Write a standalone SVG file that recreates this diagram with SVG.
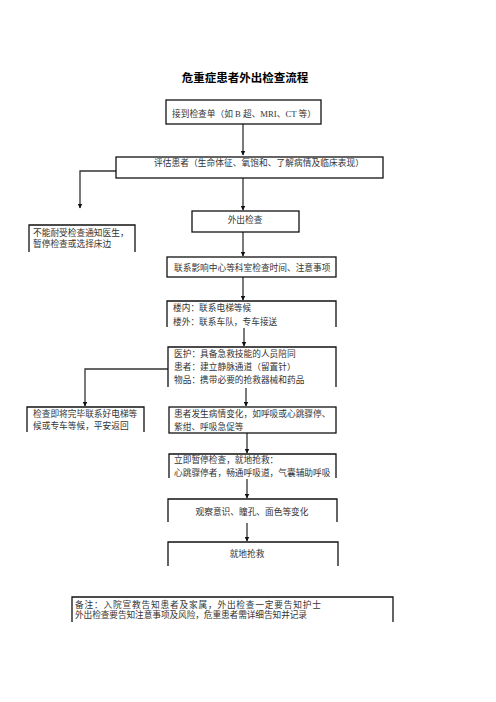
<svg xmlns="http://www.w3.org/2000/svg" width="496" height="702" viewBox="0 0 496 702">
<style>
text{font-family:"Liberation Serif","Noto Sans CJK SC",serif;font-size:8.7px;fill:#333}
.title{font-size:11.5px;font-weight:bold;fill:#000}
.box{fill:none;stroke:#111;stroke-width:1.3}
.ln{fill:none;stroke:#333;stroke-width:1.3}
.c{text-anchor:middle}
</style>
<defs>
<marker id="ah" viewBox="0 0 10 10" refX="9" refY="5" markerWidth="5" markerHeight="5" orient="auto" markerUnits="userSpaceOnUse">
<path d="M0,0 L10,5 L0,10 z" fill="#111"/>
</marker>
</defs>
<rect width="496" height="702" fill="#fff"/>
<text class="title c" x="245" y="82">危重症患者外出检查流程</text>
<g id="connectors">
<path class="ln" d="M243,124 V155" marker-end="url(#ah)"/>
<path class="ln" d="M116,171 H80 V208" marker-end="url(#ah)"/>
<path class="ln" d="M243,178 V210" marker-end="url(#ah)"/>
<path class="ln" d="M243,232 V256" marker-end="url(#ah)"/>
<path class="ln" d="M243,277 V300" marker-end="url(#ah)"/>
<path class="ln" d="M244,328 V346" marker-end="url(#ah)"/>
<path class="ln" d="M168,369 H85 V406" marker-end="url(#ah)"/>
<path class="ln" d="M246,388 V406" marker-end="url(#ah)"/>
<path class="ln" d="M247,433 V453" marker-end="url(#ah)"/>
<path class="ln" d="M247,479 V498" marker-end="url(#ah)"/>
<path class="ln" d="M247,523 V541" marker-end="url(#ah)"/>
</g>
<g id="n1">
<rect class="box" x="166" y="100" width="155" height="24"/>
<text x="172" y="116.5">接到检查单（如 B 超、MRI、CT 等）</text>
</g>
<g id="n2">
<rect class="box" x="116" y="157" width="267" height="21"/>
<text x="154" y="165.5" textLength="210" lengthAdjust="spacing">评估患者（生命体征、氧饱和、了解病情及临床表现）</text>
</g>
<g id="n3">
<path class="box" d="M29,252 V225 H135 V252"/>
<text x="33" y="235.5">不能耐受检查通知医生，</text>
<text x="33" y="247">暂停检查或选择床边</text>
</g>
<g id="n4">
<rect class="box" x="192" y="211" width="107" height="21"/>
<text class="c" x="245" y="222.5">外出检查</text>
</g>
<g id="n5">
<rect class="box" x="167" y="257" width="169" height="20"/>
<text x="174" y="270.5">联系影响中心等科室检查时间、注意事项</text>
</g>
<g id="n6">
<path class="box" d="M167,327 V301 H336 V327"/>
<text x="173" y="310.5">楼内：联系电梯等候</text>
<text x="173" y="324.5">楼外：联系车队，专车接送</text>
</g>
<g id="n7">
<path class="box" d="M168,387 V347 H336 V387"/>
<text x="174" y="356.5">医护：具备急救技能的人员陪同</text>
<text x="174" y="369.5">患者：建立静脉通道（留置针）</text>
<text x="174" y="382.5">物品：携带必要的抢救器械和药品</text>
</g>
<g id="n8">
<path class="box" d="M27,432 V407 H144 V432"/>
<text x="33" y="416.5">检查即将完毕联系好电梯等</text>
<text x="33" y="429">候或专车等候，平安返回</text>
</g>
<g id="n9">
<rect class="box" x="169" y="407" width="167" height="26"/>
<text x="174" y="416.5">患者发生病情变化，如呼吸或心跳骤停、</text>
<text x="174" y="430">紫绀、呼吸急促等</text>
</g>
<g id="n10">
<path class="box" d="M169,478 V454 H336 V478"/>
<text x="174" y="462.5">立即暂停检查，就地抢救：</text>
<text x="174" y="475.5">心跳骤停者，畅通呼吸道，气囊辅助呼吸</text>
</g>
<g id="n11">
<path class="box" d="M168,522 V499 H337 V522"/>
<text class="c" x="252" y="514.5">观察意识、瞳孔、面色等变化</text>
</g>
<g id="n12">
<path class="box" d="M168,566 V542 H338 V566"/>
<text class="c" x="247" y="556.5">就地抢救</text>
</g>
<g id="n13">
<path class="box" d="M72,622 V597 H393 V622"/>
<text x="75" y="607.5" textLength="246" lengthAdjust="spacing">备注：入院宣教告知患者及家属，外出检查一定要告知护士</text>
<text x="75" y="618" textLength="232" lengthAdjust="spacing">外出检查要告知注意事项及风险，危重患者需详细告知并记录</text>
</g>
</svg>
